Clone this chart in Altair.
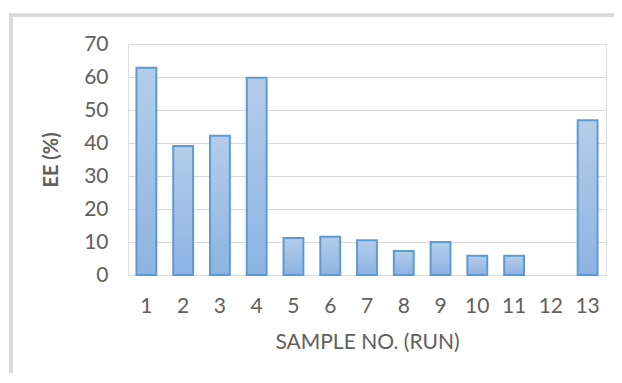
import altair as alt
import pandas as pd

samples = ["1", "2", "3", "4", "5", "6", "7", "8", "9", "10", "11", "12", "13"]
ee_values = [62.8, 39.1, 42.2, 59.8, 11.2, 11.6, 10.5, 7.3, 10.0, 5.8, 5.8, 0, 46.9]
y_ticks = [0, 10, 20, 30, 40, 50, 60, 70]

df = pd.DataFrame({"sample": samples, "ee": ee_values})

FONT = "Lato"
GRAY = "#606060"

bars = alt.Chart(df).mark_bar(
    color=alt.Gradient(
        gradient="linear",
        stops=[alt.GradientStop(color="#b4cdea", offset=0),
               alt.GradientStop(color="#8db3e2", offset=1)],
        x1=0, x2=0, y1=0, y2=1,
    ),
    stroke="#5b9bd5",
    strokeWidth=2,
).transform_filter("datum.ee > 0").encode(
    x=alt.X("sample:N", sort=samples,
            scale=alt.Scale(domain=samples, paddingInner=0.46, paddingOuter=0.23),
            axis=alt.Axis(title="SAMPLE NO. (RUN)", labelAngle=0, ticks=False, domain=False,
                          labelFontSize=21, labelColor=GRAY, labelFont=FONT, labelPadding=20,
                          titleFontSize=21, titleColor=GRAY, titleFont=FONT, titleFontWeight="normal",
                          titlePadding=15)),
    y=alt.Y("ee:Q", scale=alt.Scale(domain=[0, 70], nice=False),
            axis=alt.Axis(title="EE (%)", values=y_ticks, ticks=False, domain=False,
                          grid=True, gridColor="#d9d9d9", gridWidth=1,
                          labelFontSize=21, labelColor=GRAY, labelFont=FONT, labelPadding=20,
                          titleFontSize=20, titleColor=GRAY, titleFont=FONT, titleFontWeight="bold",
                          titlePadding=22)),
)

frame = alt.Chart(df).mark_rect(fill=None, stroke="#d9d9d9", strokeWidth=2.5).encode(
    x=alt.value(-117), x2=alt.value(700), y=alt.value(-29), y2=alt.value(500)
)

chart = alt.layer(frame, bars).properties(
    width=478, height=231,
    autosize=alt.AutoSizeParams(type="none"),
    padding={"left": 120, "top": 36, "right": 8, "bottom": 98},
).configure_view(stroke=None).configure(background="white")

chart.save("out.html", embed_options={"renderer": "svg", "actions": False})
